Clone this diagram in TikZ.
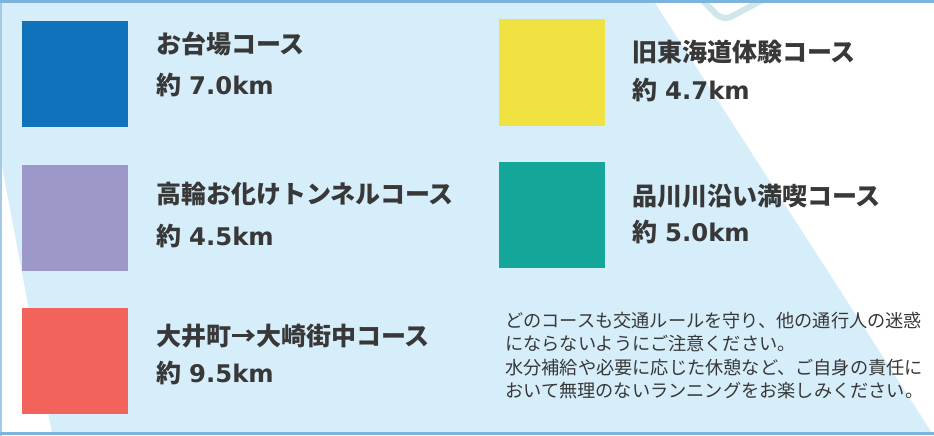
\documentclass[tikz,border=0pt]{standalone}
\usepackage{fontspec}
\newfontfamily\jpfont{Noto Sans CJK JP}
\newfontfamily\numfont{DejaVu Sans}

\definecolor{skyfill}{HTML}{D6EDFA}
\definecolor{frameline}{HTML}{7DB4DE}
\definecolor{tagline}{HTML}{CFE7E9}
\definecolor{inkgray}{HTML}{383838}
\definecolor{cblue}{HTML}{0F72BA}
\definecolor{cpurple}{HTML}{9C98C9}
\definecolor{cred}{HTML}{F2645B}
\definecolor{cyellow}{HTML}{F0E241}
\definecolor{cteal}{HTML}{13A699}

\tikzset{
	swatch/.style={minimum size=106pt, inner sep=0pt, outer sep=0pt},
	course/.style={anchor=base west, inner sep=0pt, text=inkgray,
		font=\jpfont\bfseries\fontsize{25}{28}\selectfont},
	notice/.style={anchor=base west, inner sep=0pt, text=inkgray,
		font=\jpfont\fontsize{18.2}{23.5}\selectfont}
}
\newcommand{\kmtext}[1]{約\hspace{8pt}{\numfont\fontsize{24.3}{28}\selectfont #1km}}

\begin{document}
\begin{tikzpicture}[x=1pt,y=-1pt]
	\useasboundingbox (0,0) rectangle (934,436);
	\fill[white] (0,0) rectangle (934,436);
	\fill[skyfill] (0,0) -- (653,0) -- (932,433) -- (52,433) -- (0,155) -- cycle;
	\begin{scope}
		\clip (0,0) rectangle (934,436);
		\draw[tagline, line width=6pt, rounded corners=9pt] (690,-12) -- (723,21) -- (785,-12);
	\end{scope}
	\draw[frameline!70, line width=1.5pt] (0.75,0) -- (0.75,436);
	\draw[frameline, line width=3pt] (0,1.5) -- (934,1.5);
	\draw[frameline, line width=3pt] (0,433.5) -- (934,433.5);

	\foreach \i / \c / \x / \y in {
	1/cblue/75/74,
	2/cpurple/75/217.5,
	3/cred/75/360.5,
	4/cyellow/551.5/72.5,
	5/cteal/551.5/215}
	{
		\node[swatch, fill=\c] (s\i) at (\x,\y) {};
	};

	\foreach \i / \x / \ty / \dy / \name / \km in {
	1/156/53.5/95/お台場コース/7.0,
	2/156/203.5/245/高輪お化けトンネルコース/4.5,
	3/156/345.5/382.5/大井町→大崎街中コース/9.5,
	4/632/61.5/99.5/旧東海道体験コース/4.7,
	5/632/205.5/241.5/品川川沿い満喫コース/5.0}
	{
		\node[course] (t\i) at (\x,\ty) {\name};
		\node[course] (d\i) at (\x,\dy) {\kmtext{\km}};
	};

	\foreach \j / \y / \line in {
	1/327/どのコースも交通ルールを守り、他の通行人の迷惑,
	2/350.5/にならないようにご注意ください。,
	3/374/水分補給や必要に応じた休憩など、ご自身の責任に,
	4/397.5/おいて無理のないランニングをお楽しみください。}
	{
		\node[notice] (n\j) at (505,\y) {\line};
	};
\end{tikzpicture}
\end{document}
